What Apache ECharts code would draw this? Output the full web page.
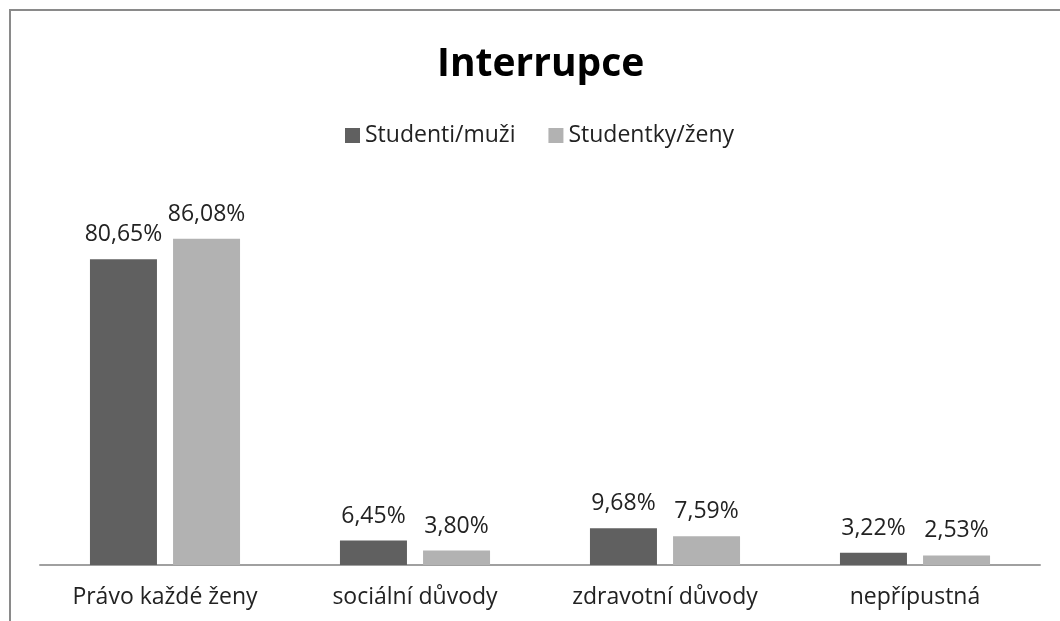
<!DOCTYPE html>
<html>
<head>
<meta charset="utf-8">
<script src="https://cdn.jsdelivr.net/npm/echarts@6/dist/echarts.min.js"></script>
<style>
  html, body { margin: 0; padding: 0; background: #fff; }
  #chart { width: 1060px; height: 621px; }
</style>
</head>
<body>
<div id="chart"></div>
<script>
const categories = ["Právo každé ženy", "sociální důvody", "zdravotní důvody", "nepřípustná"];
const seriesNames = ["Studenti/muži", "Studentky/ženy"];
const muzi = [80.65, 6.45, 9.68, 3.22];
const zeny = [86.08, 3.80, 7.59, 2.53];

const font = "'Open Sans', 'Noto Sans', sans-serif";

// formát s desetinnou čárkou
const pct = v => v.toFixed(2).replace(".", ",") + "%";

const chart = echarts.init(document.getElementById("chart"));

const labelStyle = {
  show: true,
  position: "top",
  distance: 13,
  fontFamily: font,
  fontSize: 23,
  color: "#222",
  formatter: p => pct(p.value),
};

chart.setOption({
  animation: false,
  backgroundColor: "#fff",
  title: {
    text: "Interrupce",
    left: 437,
    top: 45,
    padding: 0,
    textStyle: { fontFamily: font, fontSize: 39, fontWeight: "bold", color: "#000" },
  },
  legend: {
    data: seriesNames,
    top: 124,
    left: 345,
    padding: 0,
    itemWidth: 15,
    itemHeight: 15,
    itemGap: 33,
    icon: "rect",
    textStyle: { fontFamily: font, fontSize: 23, color: "#222" },
  },
  grid: { left: 40, right: 20, top: 186, bottom: 56 },
  xAxis: {
    type: "category",
    data: categories,
    axisLine: { lineStyle: { color: "#a0a0a0", width: 2 } },
    axisTick: { show: false },
    axisLabel: { fontFamily: font, fontSize: 23, color: "#222", margin: 21 },
  },
  yAxis: {
    type: "value",
    min: 0,
    max: 100,
    show: false,
  },
  graphic: [
    {
      type: "rect",
      shape: { x: 10, y: 10, width: 1200, height: 800 },
      style: { fill: "none", stroke: "#8a8a8a", lineWidth: 2 },
      silent: true,
    },
  ],
  series: [
    {
      name: seriesNames[0],
      type: "bar",
      data: muzi,
      barWidth: 67,
      barGap: "24%",
      itemStyle: { color: "#606060" },
      label: labelStyle,
    },
    {
      name: seriesNames[1],
      type: "bar",
      data: zeny,
      barWidth: 67,
      itemStyle: { color: "#b2b2b2" },
      label: labelStyle,
    },
  ],
});
</script>
</body>
</html>
